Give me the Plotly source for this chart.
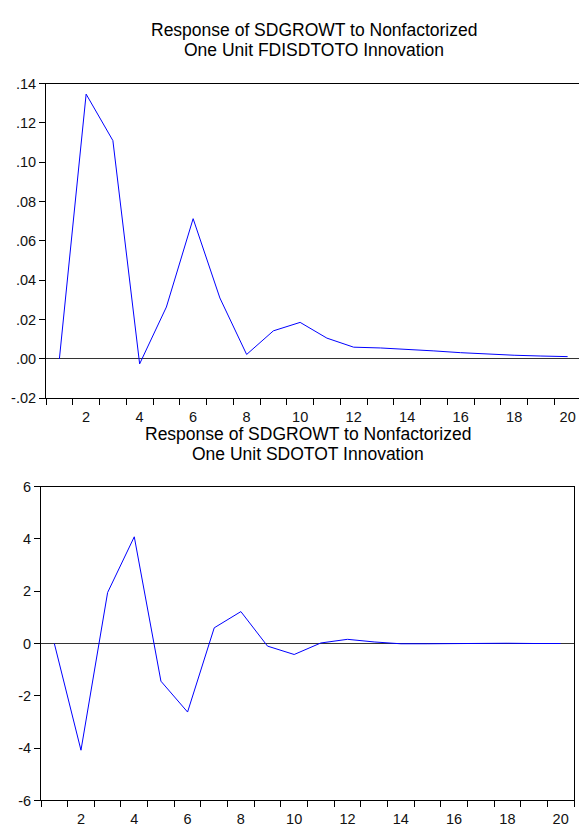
import plotly.graph_objects as go

# ---- data ----
periods = list(range(1, 21))
fdi_response = [0.0, 0.1346, 0.1110, -0.0025, 0.0264, 0.0713, 0.0310, 0.0023, 0.0143, 0.0186,
                0.0106, 0.0060, 0.0056, 0.0050, 0.0041, 0.0032, 0.0025, 0.0019, 0.0015, 0.0012]
sdotot_response = [0.0, -4.08, 1.95, 4.08, -1.44, -2.62, 0.60, 1.22, -0.10, -0.42,
                   0.02, 0.16, 0.06, -0.01, -0.01, 0.00, 0.02, 0.01, 0.00, 0.00]

top_yticks = [-0.02, 0.0, 0.02, 0.04, 0.06, 0.08, 0.10, 0.12, 0.14]
top_ytext = ["-.02", ".00", ".02", ".04", ".06", ".08", ".10", ".12", ".14"]
bottom_yticks = [-6, -4, -2, 0, 2, 4, 6]
xtick_vals = [2, 4, 6, 8, 10, 12, 14, 16, 18, 20]
xtick_text = [str(v) for v in xtick_vals]
minor_xticks = [p - 0.5 for p in periods] + [periods[-1] + 0.5]

top_title = ["Response of SDGROWT to Nonfactorized", "One Unit FDISDTOTO Innovation"]
bottom_title = ["Response of SDGROWT to Nonfactorized", "One Unit SDOTOT Innovation"]

FONT = "Liberation Sans, Arial, sans-serif"
W, H = 579, 830

fig = go.Figure()
fig.add_trace(go.Scatter(x=periods, y=fdi_response, mode="lines",
                         line=dict(color="#0000FF", width=1), xaxis="x", yaxis="y",
                         showlegend=False, hoverinfo="skip"))
fig.add_trace(go.Scatter(x=periods, y=sdotot_response, mode="lines",
                         line=dict(color="#0000FF", width=1), xaxis="x2", yaxis="y2",
                         showlegend=False, hoverinfo="skip"))


def xaxis_cfg(rng, domain, anchor):
    return dict(domain=domain, range=rng, anchor=anchor,
                showline=True, linecolor="black", linewidth=1, mirror=True,
                showgrid=False, zeroline=False,
                tickmode="array", tickvals=xtick_vals, ticktext=xtick_text,
                ticks="outside", ticklen=5, tickcolor="rgba(0,0,0,0)",
                minor=dict(tickmode="array", tickvals=minor_xticks, ticks="outside",
                           ticklen=6, tickcolor="black", tickwidth=1, showgrid=False),
                tickfont=dict(family=FONT, size=14.5, color="#111"))


def yaxis_cfg(rng, domain, anchor, vals, text, mirror):
    return dict(domain=domain, range=rng, anchor=anchor,
                showline=True, linecolor="black", linewidth=1, mirror=mirror,
                showgrid=False, zeroline=True, zerolinecolor="#333", zerolinewidth=1,
                tickmode="array", tickvals=vals, ticktext=text,
                ticks="outside", ticklen=6, tickcolor="black", tickwidth=1,
                tickfont=dict(family=FONT, size=14.5, color="#111"))


top_left, top_right = 46, 579
top_right_val = 20.5 - (581 - top_right) / 26.75
top_y0, top_y1 = 77, 398
bot_left, bot_right = 41, 574
bot_y0, bot_y1 = 488, 808

fig.update_layout(
    width=W, height=H, margin=dict(l=0, r=0, t=0, b=0),
    paper_bgcolor="white", plot_bgcolor="white",
    xaxis=xaxis_cfg([0.5, top_right_val], [top_left / W, top_right / W], "y"),
    yaxis=yaxis_cfg([-0.02, 0.14], [1 - top_y1 / H, 1 - top_y0 / H], "x",
                    top_yticks, top_ytext, False),
    xaxis2=xaxis_cfg([0.5, 20.5], [bot_left / W, bot_right / W], "y2"),
    yaxis2=yaxis_cfg([-6, 6], [1 - bot_y1 / H, 1 - bot_y0 / H], "x2",
                     bottom_yticks, [str(v) for v in bottom_yticks], True),
)

annots = []
for txt, ypx in zip(top_title, [22, 43]):
    annots.append(dict(text=txt, x=((46 + 581) / 2) / W, y=1 - ypx / H, xref="paper", yref="paper",
                       xanchor="center", yanchor="middle", showarrow=False,
                       font=dict(family=FONT, size=17.5, color="black")))
for txt, ypx in zip(bottom_title, [434, 455]):
    annots.append(dict(text=txt, x=((bot_left + bot_right) / 2) / W, y=1 - ypx / H, xref="paper",
                       yref="paper", xanchor="center", yanchor="middle", showarrow=False,
                       font=dict(family=FONT, size=17.5, color="black")))
fig.update_layout(annotations=annots)

fig.write_html("out.html", config={"displayModeBar": False},
               post_script="document.body.style.margin='0';document.body.style.overflow='hidden';")
